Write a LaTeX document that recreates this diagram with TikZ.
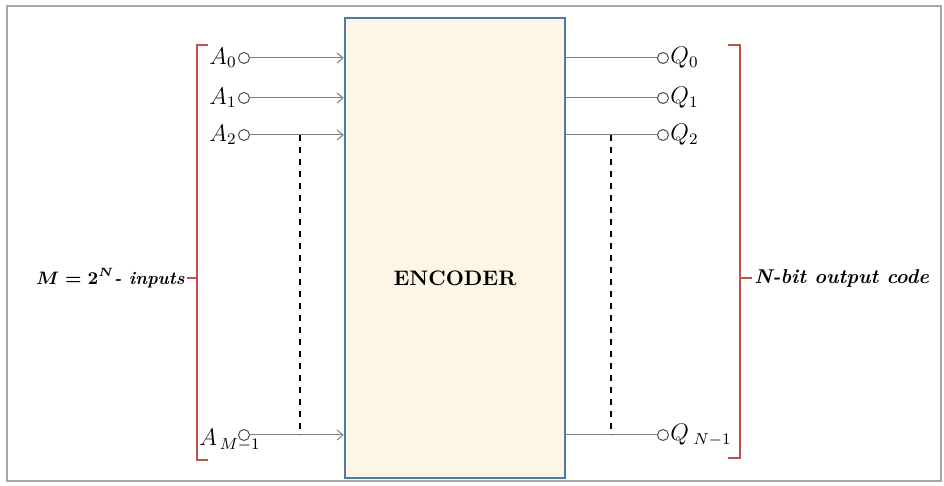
\documentclass[tikz,border=0pt]{standalone}
\usepackage{amsmath}
\usetikzlibrary{positioning,arrows.meta}
\definecolor{framegray}{HTML}{A6A6A6}
\definecolor{encblue}{HTML}{4A7BA7}
\definecolor{encfill}{HTML}{FDF6E6}
\definecolor{bracered}{HTML}{C0504D}
\definecolor{wiregray}{HTML}{7F7F7F}
\tikzset{
  pin/.style={circle,draw=black!70,line width=0.5pt,inner sep=0pt,minimum size=5.5pt},
  wire/.style={draw=wiregray,line width=0.5pt},
  brace/.style={draw=bracered,line width=0.7pt},
  lbl/.style={inner sep=0.5pt,font=\large}
}
\begin{document}
\begin{tikzpicture}[x=0.5pt,y=-0.5pt]
\useasboundingbox (0,0) rectangle (944,486);
\draw[framegray,line width=1pt] (7,6) rectangle (941,481);

% encoder block
\node[draw=encblue,fill=encfill,line width=1.2pt,minimum width=110pt,minimum height=230pt] (enc) at (455,248) {};
\node[font=\fontsize{10.5}{12}\selectfont\bfseries] (enclabel) at (455,278) {ENCODER};

% inputs
\node[pin] (a0) at (244,58) {};
\node[pin] (a1) at (244,98) {};
\node[pin] (a2) at (244,135) {};
\node[pin] (am) at (244,435) {};
\node[lbl,left=0pt of a0] {$A_0$};
\node[lbl,left=0pt of a1] {$A_1$};
\node[lbl,left=0pt of a2] {$A_2$};
\node[lbl,anchor=west] at (198,440) {$A_{\,M-1}$};
\foreach \p in {a0,a1,a2,am}
  \draw[wire,-{Straight Barb[length=3pt,width=5pt]}] (\p) -- (\p -| enc.west);
\coordinate (dl) at (300,0);
\draw[black,dashed,line width=0.6pt] (a2 -| dl) -- (am -| dl);

% outputs
\node[pin] (q0) at (663,58) {};
\node[pin] (q1) at (663,98) {};
\node[pin] (q2) at (663,135) {};
\node[pin] (qn) at (663,435) {};
\node[lbl,right=0pt of q0] {$Q_0$};
\node[lbl,right=0pt of q1] {$Q_1$};
\node[lbl,right=0pt of q2] {$Q_2$};
\node[lbl,right=0pt of qn] {$Q_{\;N-1}$};
\foreach \p in {q0,q1,q2,qn}
  \draw[wire] (\p -| enc.east) -- (\p);
\coordinate (dr) at (611,0);
\draw[black,dashed,line width=0.6pt] (q2 -| dr) -- (qn -| dr);

% braces
\draw[brace] (208,45) -- (197,45) -- (197,460) -- (208,460);
\draw[brace] (197,278) -- (187,278) coordinate (lb);
\node[inner sep=1pt,anchor=east,font=\small\bfseries\itshape] at (lb) {$\boldsymbol{M=2^N}$- inputs};
\draw[brace] (728,45) -- (740,45) -- (740,458) -- (728,458);
\draw[brace] (740,278) -- (752,278) coordinate (rb);
\node[inner sep=1pt,anchor=west,font=\fontsize{10}{12}\selectfont\bfseries\itshape] at (rb) {N-bit output code};
\end{tikzpicture}
\end{document}
